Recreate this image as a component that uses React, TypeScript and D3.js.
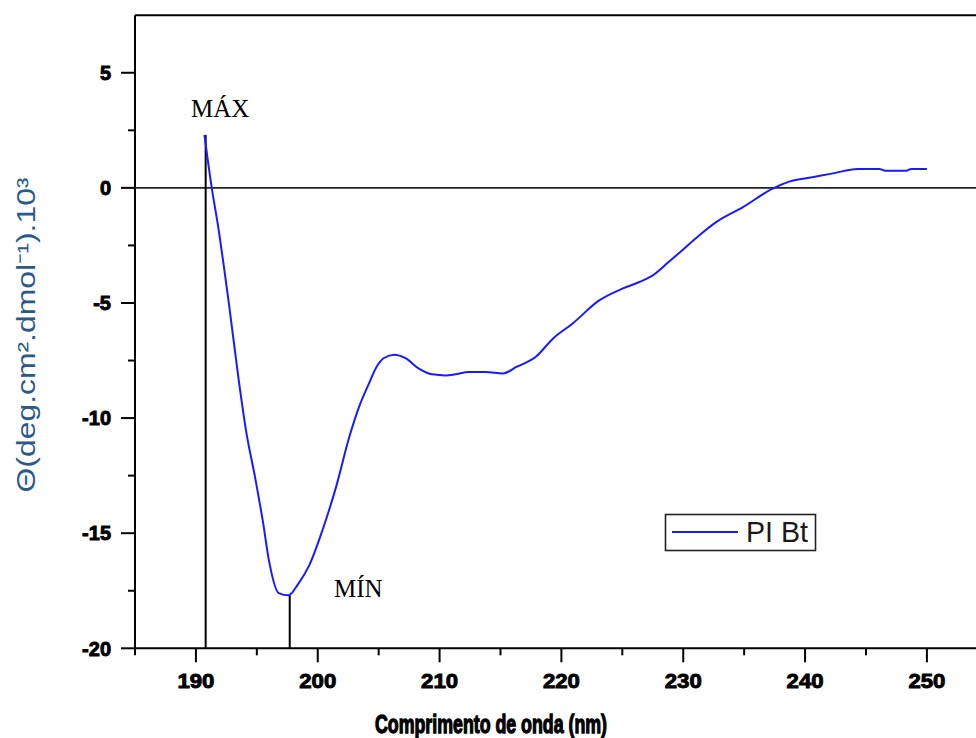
import React from "react";
import * as d3 from "d3";

const wavelengths = [190.7, 191.3, 191.8, 192.7, 193.5, 194.1, 194.9, 195.5, 196.0, 196.8, 197.6, 198.4, 199.3, 200.4, 201.5, 202.6, 203.4, 204.2, 204.8, 205.4, 206.3, 207.2, 208.3, 209.4, 210.5, 211.3, 212.4, 213.8, 215.2, 216.3, 217.9, 219.3, 220.9, 223.1, 225.0, 226.4, 227.5, 228.8, 229.9, 231.3, 232.7, 234.9, 237.3, 238.7, 240.6, 242.3, 244.3, 246.1, 246.6, 248.3, 248.7, 250.0];
const ellipticity = [2.3, 0.0, -1.6, -5.0, -8.3, -10.5, -12.7, -14.5, -16.2, -17.6, -17.7, -17.2, -16.4, -14.85, -13.0, -10.8, -9.5, -8.5, -7.8, -7.4, -7.25, -7.4, -7.85, -8.1, -8.15, -8.1, -8.0, -8.0, -8.06, -7.78, -7.34, -6.55, -5.9, -4.89, -4.38, -4.09, -3.8, -3.22, -2.72, -2.07, -1.49, -0.84, -0.04, 0.27, 0.46, 0.63, 0.82, 0.82, 0.74, 0.74, 0.82, 0.82];

const xMajorTicks = [190, 200, 210, 220, 230, 240, 250];
const xMinorTicks = [185, 195, 205, 215, 225, 235, 245, 255];
const yMajorTicks = [-20, -15, -10, -5, 0, 5];
const yMinorTicks = [-17.5, -12.5, -7.5, -2.5, 2.5];

const seriesName = "PI Bt";
const maxMarker = { x: 190.8, y: 2.3, label: "MÁX" };
const minMarker = { x: 197.7, y: -17.7, label: "MÍN" };

export default function App() {
  const W = 976;
  const H = 738;
  const x = d3.scaleLinear().domain([185, 255]).range([135, 135 + 70 * 12.183]);
  const y = d3.scaleLinear().domain([-20, 7.5]).range([648.3, 15.2]);

  const pts = wavelengths.map((w, i) => [w, ellipticity[i]] as [number, number]);
  const line = d3
    .line<[number, number]>()
    .x((d) => x(d[0]))
    .y((d) => y(d[1]))
    .curve(d3.curveMonotoneX);

  const axisColor = "#000";
  const tickFont = "'Liberation Sans', Arial, sans-serif";

  return (
    <svg
      width={W}
      height={H}
      style={{ position: "absolute", left: 0, top: 0, background: "#fff" }}
      xmlns="http://www.w3.org/2000/svg"
    >
      <rect x={0} y={0} width={W} height={H} fill="#fff" />
      {/* frame */}
      <line x1={x(185)} x2={W} y1={y(7.5)} y2={y(7.5)} stroke={axisColor} strokeWidth={2} />
      <line x1={x(185)} x2={W} y1={y(-20)} y2={y(-20)} stroke={axisColor} strokeWidth={2} />
      <line x1={x(185)} x2={x(185)} y1={y(7.5)} y2={y(-20)} stroke={axisColor} strokeWidth={2} />
      {/* zero line */}
      <line x1={x(185)} x2={W} y1={y(0)} y2={y(0)} stroke="#222" strokeWidth={1.6} />

      {/* x ticks */}
      {xMajorTicks.map((t) => (
        <g key={"xM" + t}>
          <line x1={x(t)} x2={x(t)} y1={y(-20)} y2={y(-20) + 14} stroke={axisColor} strokeWidth={2} />
          <text
            x={x(t)}
            y={688}
            textAnchor="middle"
            fontFamily={tickFont}
            fontWeight="bold"
            fontSize={20}
            stroke="#000"
            strokeWidth={0.9}
            fill="#000"
            textLength={37}
            lengthAdjust="spacingAndGlyphs"
          >
            {t}
          </text>
        </g>
      ))}
      {xMinorTicks.map((t) => (
        <line key={"xm" + t} x1={x(t)} x2={x(t)} y1={y(-20)} y2={y(-20) + 7} stroke={axisColor} strokeWidth={2} />
      ))}

      {/* y ticks */}
      {yMajorTicks.map((t) => (
        <g key={"yM" + t}>
          <line x1={x(185) - 14} x2={x(185)} y1={y(t)} y2={y(t)} stroke={axisColor} strokeWidth={2} />
          <text
            x={111}
            y={y(t)}
            dy="0.36em"
            textAnchor="end"
            fontFamily={tickFont}
            fontWeight="bold"
            fontSize={20}
            stroke="#000"
            strokeWidth={0.9}
            fill="#000"
          >
            {t}
          </text>
        </g>
      ))}
      {yMinorTicks.map((t) => (
        <line key={"ym" + t} x1={x(185) - 7} x2={x(185)} y1={y(t)} y2={y(t)} stroke={axisColor} strokeWidth={2} />
      ))}

      {/* marker lines */}
      <line x1={x(maxMarker.x)} x2={x(maxMarker.x)} y1={y(maxMarker.y)} y2={y(-20)} stroke="#000" strokeWidth={2} />
      <line x1={x(minMarker.x)} x2={x(minMarker.x)} y1={y(minMarker.y)} y2={y(-20)} stroke="#000" strokeWidth={2} />

      {/* curve */}
      <path d={line(pts) || ""} fill="none" stroke="#1a1aff" strokeWidth={2} />

      {/* annotations */}
      <text x={191} y={117} fontFamily="'Liberation Serif', 'Times New Roman', serif" fontSize={25} fill="#000">
        {maxMarker.label}
      </text>
      <text x={334} y={597} fontFamily="'Liberation Serif', 'Times New Roman', serif" fontSize={25} fill="#000">
        {minMarker.label}
      </text>

      {/* legend */}
      <rect x={665.5} y={514.5} width={150} height={36} fill="#fff" stroke="#222" strokeWidth={1.6} />
      <line x1={672} x2={738} y1={532} y2={532} stroke="#1a1aff" strokeWidth={2} />
      <text x={746} y={542} fontFamily={tickFont} fontSize={29} fill="#1a1a1a" textLength={62} lengthAdjust="spacingAndGlyphs">
        {seriesName}
      </text>

      {/* axis titles */}
      <text
        x={491}
        y={733}
        textAnchor="middle"
        fontFamily={tickFont}
        fontWeight="bold"
        fontSize={26}
        stroke="#000"
        strokeWidth={1.3}
        fill="#000"
        textLength={232}
        lengthAdjust="spacingAndGlyphs"
      >
        Comprimento de onda (nm)
      </text>
      <text
        transform="translate(35,335) rotate(-90)"
        textAnchor="middle"
        fontFamily={tickFont}
        fontSize={25}
        fill="#2a5a8a"
        textLength={315}
        lengthAdjust="spacingAndGlyphs"
      >
        Θ(deg.cm².dmol⁻¹).10³
      </text>
    </svg>
  );
}
